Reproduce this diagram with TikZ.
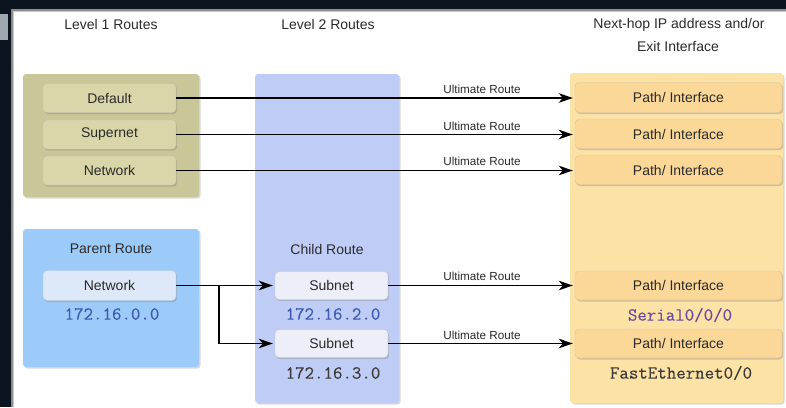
\documentclass[tikz,border=0pt]{standalone}
\usepackage{fontspec}
\setmainfont{Liberation Sans}
\newfontfamily\ipfont{Latin Modern Mono}[FakeBold=0.3]
\usetikzlibrary{shadows,arrows.meta}
\definecolor{darkbg}{HTML}{0B1520}
\definecolor{tabgray}{HTML}{9EA6B0}
\definecolor{olive}{HTML}{C9C697}
\definecolor{olivein}{HTML}{D9D7A9}
\definecolor{colblue}{HTML}{BFCDF6}
\definecolor{parentblue}{HTML}{9CCBFA}
\definecolor{netin}{HTML}{DDE9F8}
\definecolor{subin}{HTML}{ECEFF8}
\definecolor{yel}{HTML}{FDE2A6}
\definecolor{yelin}{HTML}{FBD898}
\definecolor{titlegray}{HTML}{2A2A2A}
\definecolor{ipblue}{HTML}{3D5AB0}
\definecolor{ippurple}{HTML}{6A4C9C}
\definecolor{ipgray}{HTML}{3A3A3A}
\begin{document}
\begin{tikzpicture}[x=1pt,y=-1pt,
  colbox/.style={rounded corners=3pt, draw=none, inner sep=0pt,
    drop shadow={shadow xshift=1.5pt,shadow yshift=-1.5pt,opacity=0.3}},
  inbox/.style={rounded corners=4pt, inner sep=0pt, minimum height=28pt,
    font=\fontsize{14}{15}\selectfont, text=titlegray,
    drop shadow={shadow xshift=1.2pt,shadow yshift=-1.6pt,opacity=0.35}},
  title/.style={font=\fontsize{14}{15}\selectfont, text=titlegray, inner sep=0pt},
  lbl/.style={font=\fontsize{11.7}{12}\selectfont, text=titlegray, inner sep=0pt},
  ip/.style={font=\ipfont\fontsize{18.4}{19}\selectfont, inner sep=0pt},
  arr/.style={line width=1.7pt, -{Stealth[length=14pt,width=9.5pt,inset=4pt]}, shorten >=2pt}
]
\useasboundingbox (0,0) rectangle (786,407);
% frame
\fill[darkbg] (0,0) rectangle (786,407);
\fill[tabgray] (0,14) rectangle (8,40);
\fill[black!45] (11,9) rectangle (786,407);
\fill[black!20] (12.5,10.5) rectangle (786,407);
\fill[white] (14,12) rectangle (786,407);
% titles
\node[title] (t1) at (111,24) {Level 1 Routes};
\node[title] (t2) at (328,24) {Level 2 Routes};
\node[title] (t3) at (679,25) {Next-hop IP address and/or};
\node[title] (t4) at (678,46) {Exit Interface};
% column boxes
\node[colbox, fill=olive, minimum width=176pt, minimum height=123pt] (l1) at (111,135.5) {};
\node[colbox, fill=parentblue, minimum width=176pt, minimum height=138pt] (par) at (111,298) {};
\node[colbox, fill=colblue, minimum width=144pt, minimum height=329pt] (l2) at (327,238.5) {};
\node[colbox, fill=yel, minimum width=213pt, minimum height=330pt] (nh) at (676.5,238) {};
% level 1 inner boxes
\node[inbox, fill=olivein, draw=olive!80!black!60, line width=0.4pt, minimum width=133pt, minimum height=29pt] (def) at (109.5,98) {Default};
\node[inbox, fill=olivein, draw=olive!80!black!60, line width=0.4pt, minimum width=133pt, minimum height=29pt] (sup) at (109.5,134.5) {Supernet};
\node[inbox, fill=olivein, draw=olive!80!black!60, line width=0.4pt, minimum width=133pt, minimum height=29pt] (net) at (109.5,170.5) {Network};
% parent
\node[title] (pt) at (111,249) {Parent Route};
\node[inbox, fill=netin, draw=parentblue!70!black!50, line width=0.4pt, minimum width=133pt, minimum height=30pt] (pnet) at (109.5,285.5) {Network};
\node[ip, text=ipblue] (ip0) at (112,314) {172.16.0.0};
% child
\node[title] (ct) at (327,249) {Child Route};
\node[inbox, fill=subin, draw=colblue!70!black!50, line width=0.4pt, minimum width=113pt, minimum height=28pt] (sub1) at (331.5,285.5) {Subnet};
\node[ip, text=ipblue] (ip2) at (333,314) {172.16.2.0};
\node[inbox, fill=subin, draw=colblue!70!black!50, line width=0.4pt, minimum width=113pt, minimum height=28pt] (sub2) at (331.5,343.5) {Subnet};
\node[ip, text=ipgray] (ip3) at (333,373) {172.16.3.0};
% path boxes
\node[inbox, fill=yelin, draw=yel!70!black!60, line width=0.4pt, minimum width=207pt, minimum height=30pt] (p1) at (678.5,97.5) {Path/ Interface};
\node[inbox, fill=yelin, draw=yel!70!black!60, line width=0.4pt, minimum width=207pt, minimum height=29pt] (p2) at (678.5,134) {Path/ Interface};
\node[inbox, fill=yelin, draw=yel!70!black!60, line width=0.4pt, minimum width=207pt, minimum height=29pt] (p3) at (678.5,170) {Path/ Interface};
\node[inbox, fill=yelin, draw=yel!70!black!60, line width=0.4pt, minimum width=207pt, minimum height=29pt] (p4) at (678.5,285.5) {Path/ Interface};
\node[ip, text=ippurple] (ser) at (680,315) {Serial0/0/0};
\node[inbox, fill=yelin, draw=yel!70!black!60, line width=0.4pt, minimum width=207pt, minimum height=29pt] (p5) at (678.5,343.5) {Path/ Interface};
\node[ip, text=ipgray] (fe) at (681,373) {FastEthernet0/0};
% labels
\node[lbl] (u1) at (482,89) {Ultimate Route};
\node[lbl] (u2) at (482,126) {Ultimate Route};
\node[lbl] (u3) at (482,161) {Ultimate Route};
\node[lbl] (u4) at (482,276) {Ultimate Route};
\node[lbl] (u5) at (482,335) {Ultimate Route};
% arrows
\draw[arr] (def.east) -- (def.east -| p1.west);
\draw[arr] (sup.east) -- (sup.east -| p2.west);
\draw[arr] (net.east) -- (net.east -| p3.west);
\draw[arr] (pnet.east) -- (sub1.west);
\coordinate (br) at (219,285.5);
\draw[arr] (br) |- (sub2.west);
\draw[arr] (sub1.east) -- (p4.west);
\draw[arr] (sub2.east) -- (p5.west);
\end{tikzpicture}
\end{document}
